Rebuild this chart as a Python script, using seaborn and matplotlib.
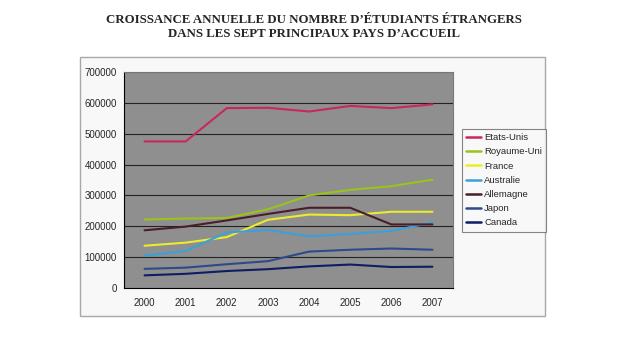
import matplotlib
matplotlib.use("Agg")
import matplotlib.pyplot as plt
import seaborn as sns
import pandas as pd
from matplotlib.patches import Rectangle

years = ["2000", "2001", "2002", "2003", "2004", "2005", "2006", "2007"]
countries = ["Etats-Unis", "Royaume-Uni", "France", "Australie", "Allemagne", "Japon", "Canada"]
etats_unis = [475000, 475000, 583000, 584000, 572000, 590000, 583000, 595000]
royaume_uni = [222000, 225000, 227000, 255000, 300000, 318000, 330000, 351000]
france = [137000, 147000, 165000, 221000, 238000, 236000, 247000, 247000]
australie = [105000, 120000, 180000, 188000, 167000, 175000, 185000, 212000]
allemagne = [187000, 199000, 219000, 240000, 260000, 260000, 206000, 206000]
japon = [62000, 66000, 77000, 87000, 118000, 124000, 128000, 124000]
canada = [41000, 46000, 55000, 61000, 70000, 76000, 68000, 69000]
series = [etats_unis, royaume_uni, france, australie, allemagne, japon, canada]
colors = ["#c8285f", "#9ac31c", "#ecec2c", "#3aa0dc", "#4a1e28", "#2c4a8c", "#101c64"]
title = "CROISSANCE ANNUELLE DU NOMBRE D\u2019ÉTUDIANTS ÉTRANGERS\nDANS LES SEPT PRINCIPAUX PAYS D\u2019ACCUEIL"

rows = []
for c, vals in zip(countries, series):
    for i, (y, v) in enumerate(zip(years, vals)):
        rows.append({"pays": c, "x": i, "annee": y, "valeur": v})
df = pd.DataFrame(rows)

sns.set_style("white")
plt.rcParams["font.family"] = ["Liberation Sans", "DejaVu Sans"]

W, H = 622, 352
fig = plt.figure(figsize=(W / 100, H / 100), dpi=100)
fig.patch.set_facecolor("white")

# outer chart frame
fig.patches.append(Rectangle((80 / W, 1 - 316 / H), (545 - 80) / W, (316 - 57) / H,
                             transform=fig.transFigure, facecolor="#f8f8f8",
                             edgecolor="#a8a8a8", linewidth=1.0, zorder=-5))

ax = fig.add_axes([124 / W, 1 - 288 / H, (453 - 124) / W, (288 - 72) / H])
ax.set_zorder(2)
ax.set_facecolor("#8f8f8f")

sns.lineplot(data=df, x="x", y="valeur", hue="pays", hue_order=countries,
             palette=colors, linewidth=1.5, ax=ax, legend=False, zorder=3)

ax.set_xlim(-0.5, len(years) - 0.5)
ax.set_ylim(0, 700000)
ax.set_yticks(range(0, 700001, 100000))
ax.set_yticklabels([str(v) for v in range(0, 700001, 100000)], fontsize=7)
ax.set_xticks(range(len(years)))
ax.set_xticklabels(years, fontsize=7)
ax.set_xticks([i + 0.5 for i in range(-1, len(years))], minor=True)
ax.tick_params(axis="x", which="major", length=0, pad=7)
ax.tick_params(axis="x", which="minor", length=3, width=0.8, color="black", direction="out")
ax.tick_params(axis="y", length=3, width=0.8, color="black", direction="out", pad=2)
ax.set_xlabel("")
ax.set_ylabel("")
ax.grid(False)
for v in range(100000, 700001, 100000):
    ax.axhline(v, color="#222222", linewidth=0.8, zorder=1)
for s in ["top", "right"]:
    ax.spines[s].set_color("#777777")
    ax.spines[s].set_linewidth(0.8)
for s in ["left", "bottom"]:
    ax.spines[s].set_color("black")
    ax.spines[s].set_linewidth(0.8)

handles = [plt.Line2D([], [], color=c, linewidth=1.8) for c in colors]
leg = fig.legend(handles, countries, loc="upper left",
                 bbox_to_anchor=(462 / W, 1 - 129 / H), fontsize=6.8,
                 frameon=True, fancybox=False, handlelength=1.6, handletextpad=0.3,
                 labelspacing=0.55, borderpad=0.45, borderaxespad=0)
leg.get_frame().set_edgecolor("#666666")
leg.get_frame().set_linewidth(0.8)
leg.get_frame().set_facecolor("#f8f8f8")

fig.text(0.505, 1 - 27 / H, title, ha="center", va="center", fontsize=9.3,
         fontweight="bold", family=["Liberation Serif", "DejaVu Serif"], linespacing=1.3)

fig.savefig("out.png", dpi=100)
